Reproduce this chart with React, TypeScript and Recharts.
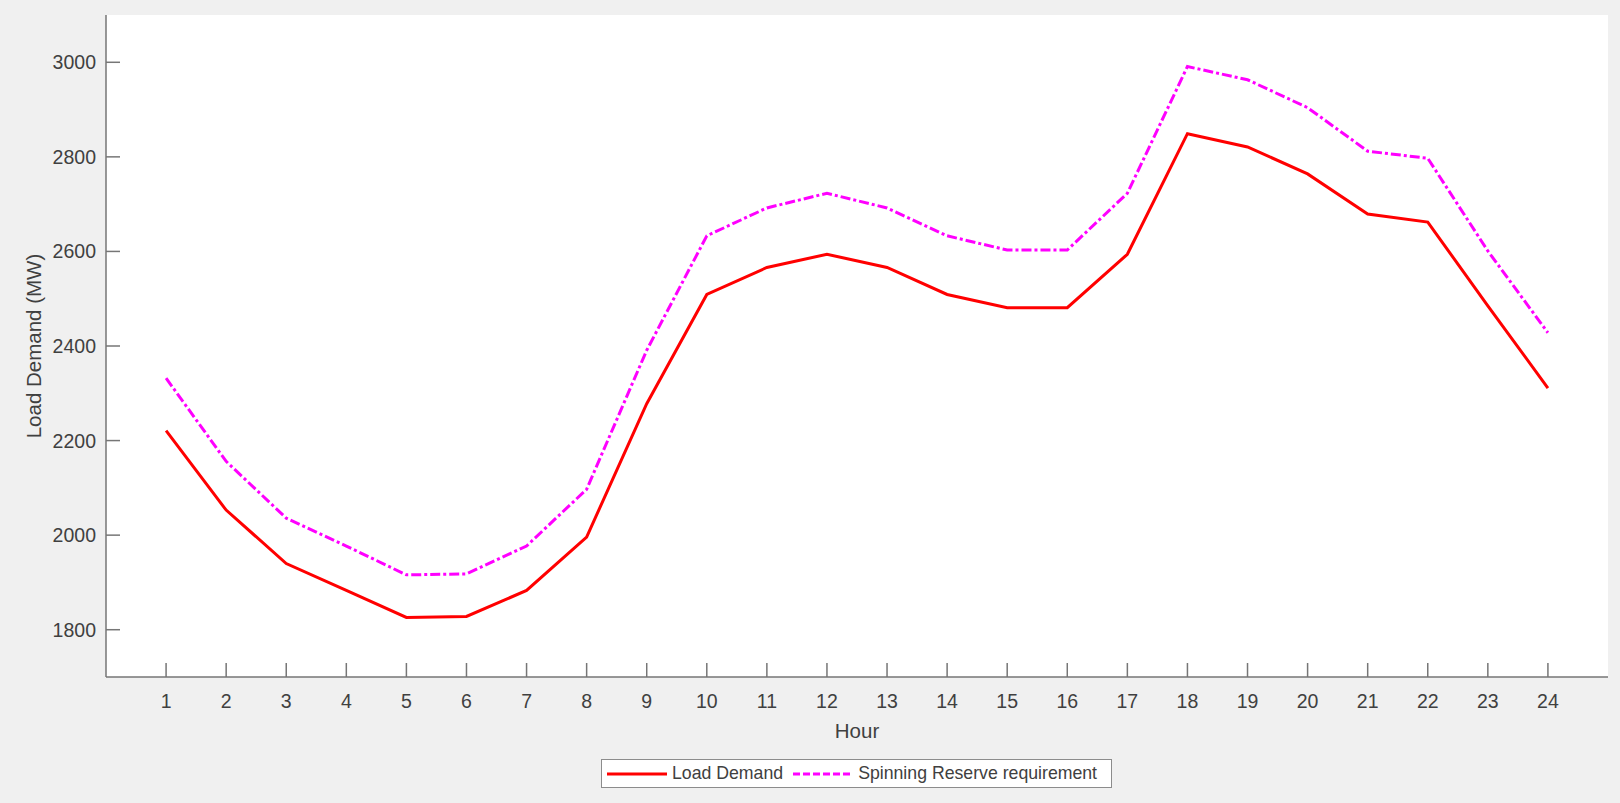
import React from "react";
import {
  LineChart,
  Line,
  XAxis,
  YAxis,
  CartesianGrid,
  Legend,
} from "recharts";

const hours = [1, 2, 3, 4, 5, 6, 7, 8, 9, 10, 11, 12, 13, 14, 15, 16, 17, 18, 19, 20, 21, 22, 23, 24];
const loadDemand = [
  2221, 2053, 1940, 1883, 1826, 1828, 1883, 1996, 2278, 2509, 2566, 2594,
  2566, 2509, 2481, 2481, 2594, 2849, 2821, 2764, 2679, 2662, 2485, 2311,
];
const spinningReserve = [
  2332, 2156, 2036, 1977, 1916, 1918, 1977, 2097, 2391, 2633, 2692, 2723,
  2692, 2633, 2603, 2603, 2723, 2991, 2963, 2904, 2812, 2797, 2601, 2428,
];
const yTicks = [1800, 2000, 2200, 2400, 2600, 2800, 3000];

const FONT = '"Liberation Sans", Arial, Helvetica, sans-serif';
const TEXT = "#404040";
const AXIS = "#767676";
const DASH = "10 3 3 3";

const chartData = hours.map((h, i) => ({
  hour: h,
  load: loadDemand[i],
  reserve: spinningReserve[i],
}));

// ticks point into the plot, like MATLAB
function XTick(props: any) {
  const { x, y, payload } = props;
  return (
    <g>
      <line x1={x} x2={x} y1={y} y2={y - 14} stroke={AXIS} strokeWidth={1.5} />
      <text
        x={x}
        y={y + 24}
        textAnchor="middle"
        dominantBaseline="central"
        fill={TEXT}
        fontSize={19.5}
        fontFamily={FONT}
      >
        {payload.value}
      </text>
    </g>
  );
}

function YTick(props: any) {
  const { x, y, payload } = props;
  return (
    <g>
      <line x1={x} x2={x + 14} y1={y} y2={y} stroke={AXIS} strokeWidth={1.5} />
      <text
        x={x - 10}
        y={y}
        textAnchor="end"
        dominantBaseline="central"
        fill={TEXT}
        fontSize={19.5}
        fontFamily={FONT}
      >
        {payload.value}
      </text>
    </g>
  );
}

function LegendBox() {
  const item = (color: string, dash: string | undefined, label: string, gap: number) => (
    <div style={{ display: "flex", alignItems: "center", marginLeft: gap }}>
      <svg width={60} height={10}>
        <line x1={0} x2={60} y1={5} y2={5} stroke={color} strokeWidth={3} strokeDasharray={dash} />
      </svg>
      <span style={{ marginLeft: 5 }}>{label}</span>
    </div>
  );
  return (
    <div
      style={{
        boxSizing: "border-box",
        width: 511,
        height: 29,
        border: "1px solid #8c8c8c",
        background: "#fff",
        display: "flex",
        alignItems: "center",
        fontFamily: FONT,
        fontSize: 17.7,
        color: TEXT,
        whiteSpace: "nowrap",
      }}
    >
      {item("#ff0000", undefined, "Load Demand", 5)}
      {item("#ff00ff", "7 3", "Spinning Reserve requirement", 10)}
    </div>
  );
}

export default function App() {
  return (
    <div
      style={{
        position: "absolute",
        left: 0,
        top: 0,
        width: 1620,
        height: 803,
        background: "#f0f0f0",
      }}
    >
      <LineChart
        width={1620}
        height={803}
        data={chartData}
        margin={{ top: 15, right: 12, bottom: 0, left: 0 }}
      >
        <CartesianGrid fill="#ffffff" horizontal={false} vertical={false} />
        <XAxis
          dataKey="hour"
          type="number"
          domain={[0, 25]}
          ticks={hours}
          interval={0}
          height={126}
          tickSize={0}
          tickMargin={0}
          tickLine={false}
          axisLine={{ stroke: AXIS, strokeWidth: 1.5 }}
          tick={<XTick />}
          label={{
            content: (p: any) => {
              const vb = p.viewBox;
              return (
                <text
                  x={vb.x + vb.width / 2}
                  y={vb.y + 53}
                  textAnchor="middle"
                  dominantBaseline="central"
                  fill={TEXT}
                  fontSize={20.5}
                  fontFamily={FONT}
                >
                  Hour
                </text>
              );
            },
          }}
        />
        <YAxis
          type="number"
          domain={[1700, 3100]}
          ticks={yTicks}
          interval={0}
          width={106}
          tickSize={0}
          tickMargin={0}
          tickLine={false}
          axisLine={{ stroke: AXIS, strokeWidth: 1.5 }}
          tick={<YTick />}
          label={{
            content: () => (
              <text
                x={33}
                y={346}
                transform="rotate(-90, 33, 346)"
                textAnchor="middle"
                dominantBaseline="central"
                fill={TEXT}
                fontSize={20.5}
                fontFamily={FONT}
              >
                Load Demand (MW)
              </text>
            ),
          }}
        />
        <Legend
          layout="horizontal"
          verticalAlign="middle"
          align="center"
          wrapperStyle={{ left: 601, top: 759, width: 511, height: 29 }}
          content={() => <LegendBox />}
        />
        <Line
          type="linear"
          dataKey="load"
          name="Load Demand"
          stroke="#ff0000"
          strokeWidth={3}
          dot={false}
          activeDot={false}
          isAnimationActive={false}
        />
        <Line
          type="linear"
          dataKey="reserve"
          name="Spinning Reserve requirement"
          stroke="#ff00ff"
          strokeWidth={3}
          strokeDasharray={DASH}
          dot={false}
          activeDot={false}
          isAnimationActive={false}
        />
      </LineChart>
    </div>
  );
}
